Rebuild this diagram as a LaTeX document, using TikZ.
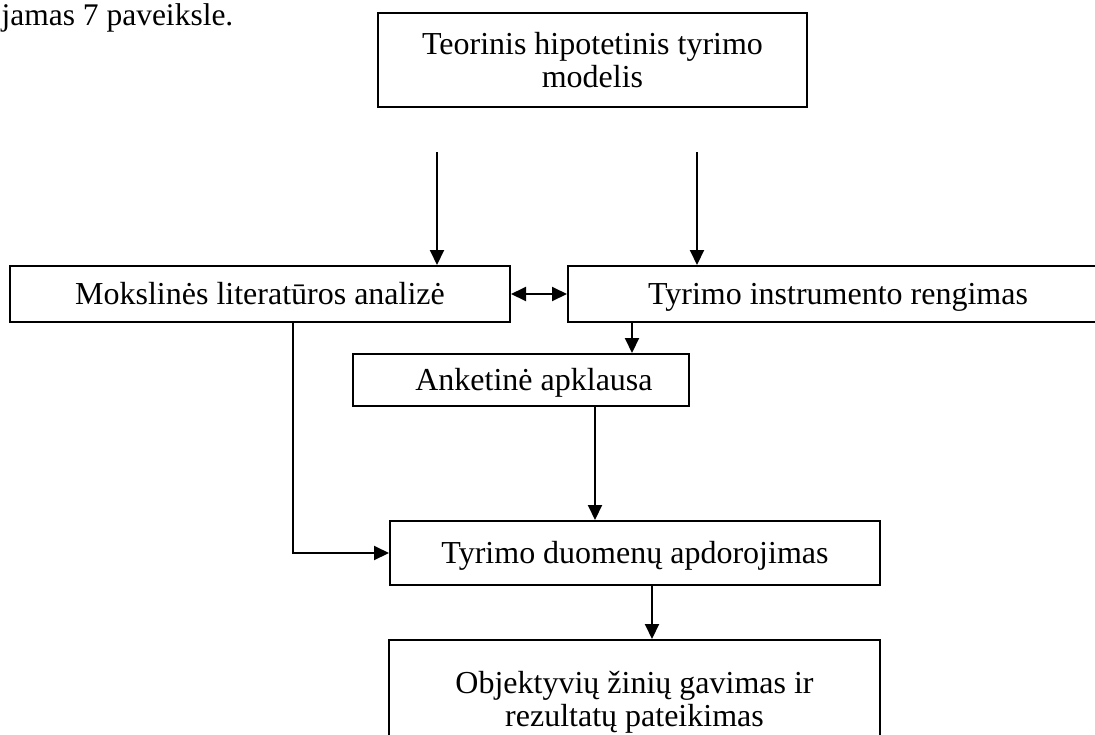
\documentclass[tikz,border=0pt]{standalone}
\usepackage{fontspec}
\setmainfont{Liberation Serif}
\usetikzlibrary{arrows.meta}

\tikzset{
  blokas/.style={draw, line width=2pt, align=center, inner sep=0pt,
    font=\fontsize{32}{33}\selectfont},
  vienaeile/.style={text height=21pt, text depth=0pt},
  rodykle/.style={-{Triangle[length=15pt,width=14pt]}, line width=2pt},
  dvipuse/.style={{Triangle[length=15pt,width=14pt]}-{Triangle[length=15pt,width=14pt]}, line width=2pt}
}

\begin{document}
\begin{tikzpicture}[x=1pt,y=-1pt]
\useasboundingbox (0,0) rectangle (1095,734);
\node [anchor=base west, font=\fontsize{31.5}{33}\selectfont] (tekstas) at (-2,25) {jamas 7 paveiksle.};
% blokai
\node [blokas, minimum width=429pt, minimum height=94pt] (modelis) at (592.5,60) {Teorinis hipotetinis tyrimo\\modelis};
\node [blokas, vienaeile, minimum width=500pt, minimum height=56pt] (analize) at (260,294) {Mokslinės literatūros analizė};
\node [blokas, vienaeile, minimum width=540pt, minimum height=56pt] (rengimas) at (838,294) {Tyrimo instrumento rengimas};
\node [blokas, vienaeile, minimum width=336pt, minimum height=52pt] (anketa) at (521,380) {\hspace*{26pt}Anketinė apklausa};
\node [blokas, vienaeile, minimum width=490pt, minimum height=64pt] (apdorojimas) at (635,553) {Tyrimo duomenų apdorojimas};
\node [blokas, minimum width=491pt, minimum height=124pt] (ziniai) at (634.5,702) {Objektyvių žinių gavimas ir\\rezultatų pateikimas};
% rodykles
\coordinate (v1) at (437,152);
\coordinate (v2) at (697,152);
\coordinate (r1) at (632,0);
\coordinate (a1) at (595,0);
\coordinate (l1) at (293,0);
\coordinate (b1) at (652,0);
\draw [rodykle] (v1) -- (analize.north -| v1);
\draw [rodykle] (v2) -- (rengimas.north -| v2);
\draw [dvipuse] (analize.east) -- (analize.east -| rengimas.west);
\draw [rodykle] (rengimas.south -| r1) -- (anketa.north -| r1);
\draw [rodykle] (anketa.south -| a1) -- (apdorojimas.north -| a1);
\draw [rodykle] (analize.south -| l1) |- (apdorojimas.west);
\draw [rodykle] (apdorojimas.south -| b1) -- (ziniai.north -| b1);
\end{tikzpicture}
\end{document}
